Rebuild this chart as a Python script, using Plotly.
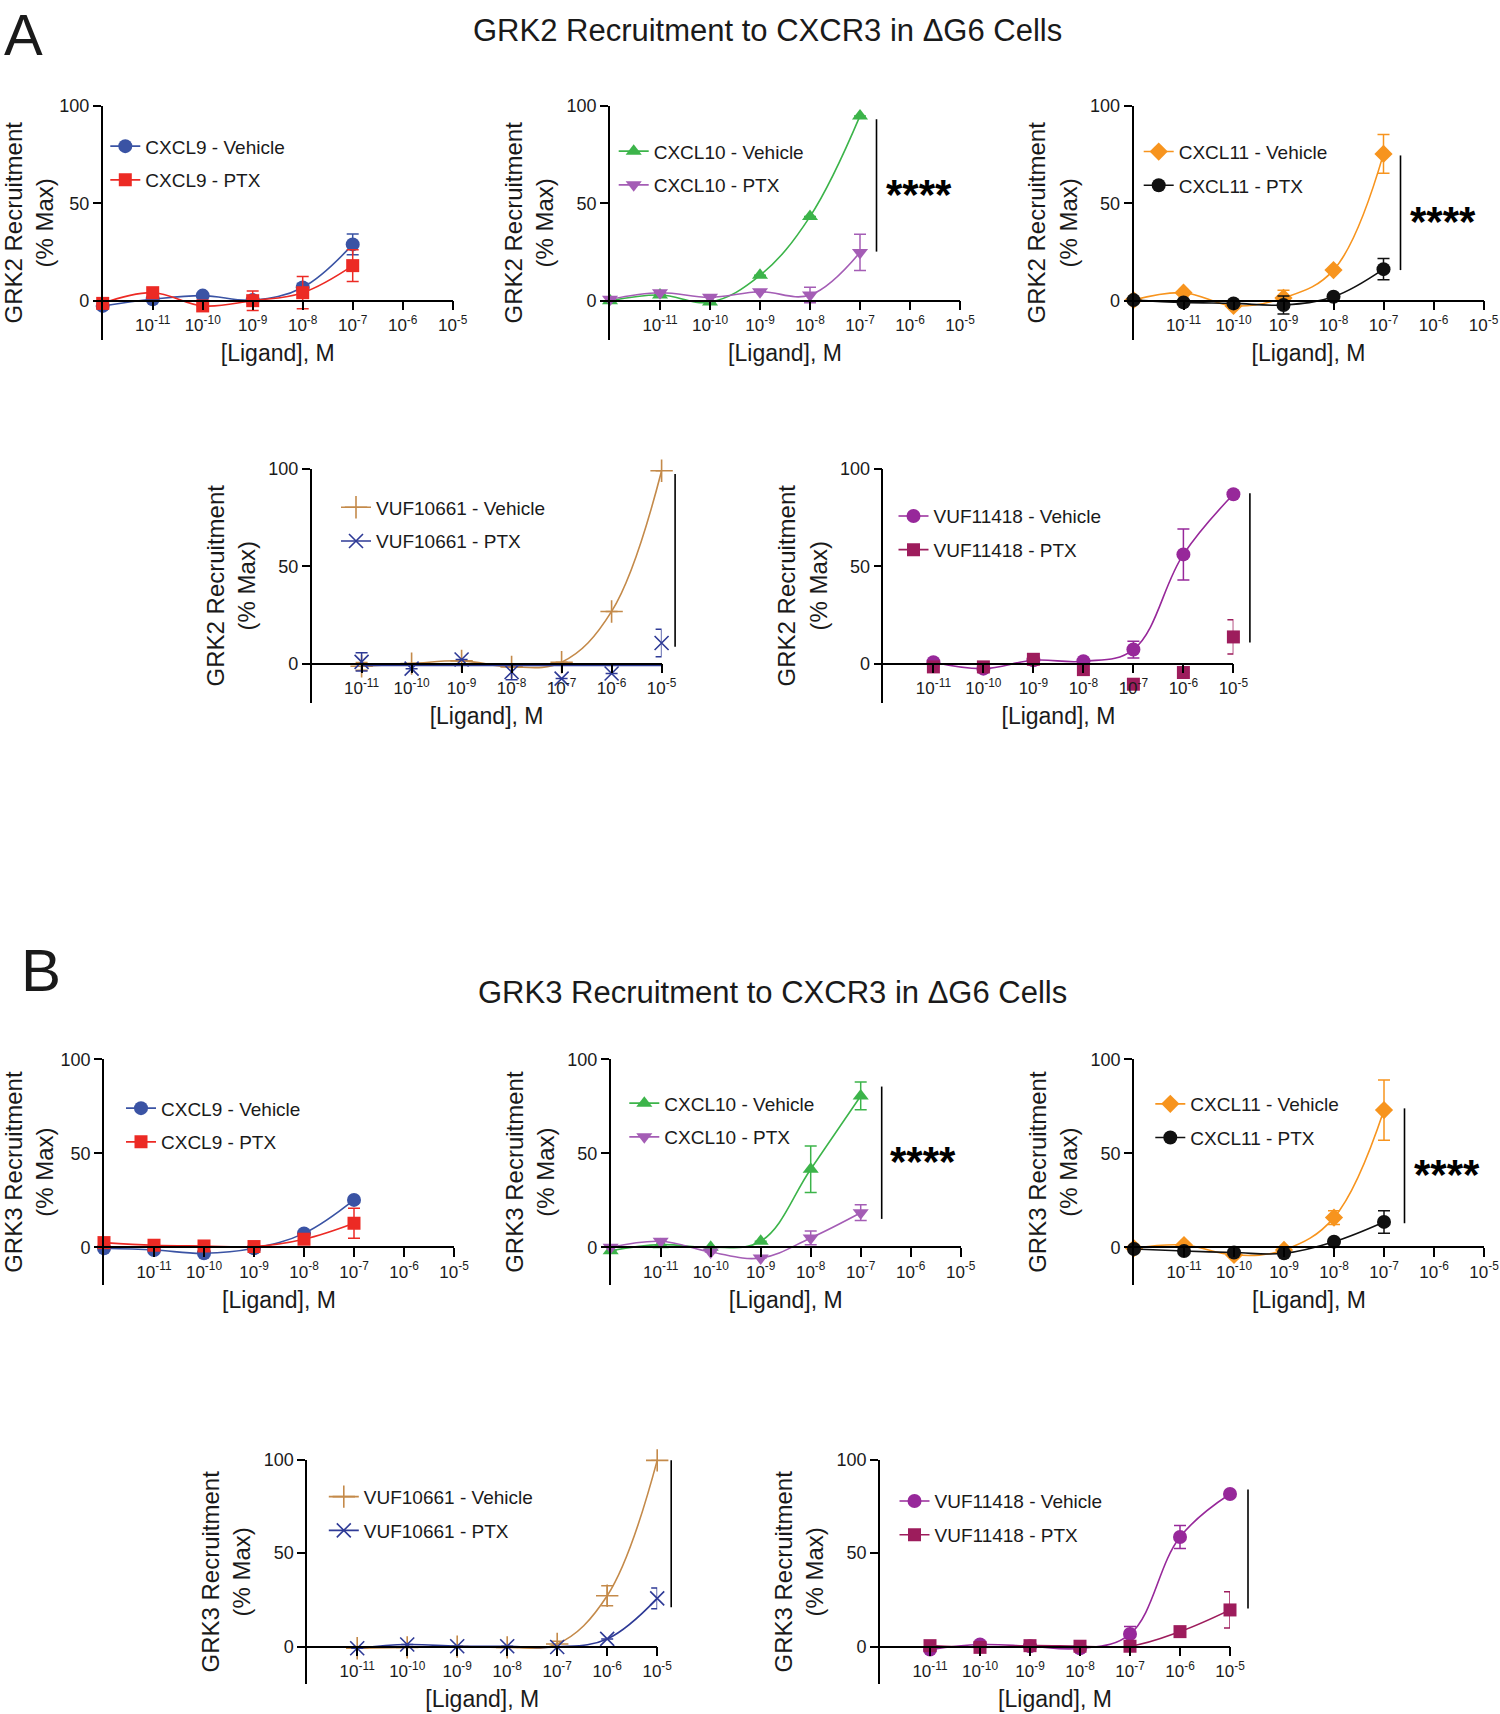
import plotly.graph_objects as go

FIG_W, FIG_H = 1500, 1714
FONT = "Liberation Sans, Arial, Helvetica, sans-serif"
TXT = "#1a1a1a"

# ---------------- data ----------------
chemokine_log_conc = [-12, -11, -10, -9, -8, -7]
vuf_log_conc = [-11, -10, -9, -8, -7, -6, -5]
xtick_vals = [-11, -10, -9, -8, -7, -6, -5]
xtick_text = ["10<sup>-11</sup>", "10<sup>-10</sup>", "10<sup>-9</sup>", "10<sup>-8</sup>",
              "10<sup>-7</sup>", "10<sup>-6</sup>", "10<sup>-5</sup>"]
ytick_vals = [0, 50, 100]

# GRK2 (panel A)
grk2_cxcl9_vehicle = [-2.7, 0.7, 2.6, 0.3, 6.8, 28.9]
grk2_cxcl9_vehicle_err = [0, 0, 0, 0, 2.0, 5.3]
grk2_cxcl9_ptx = [-1.4, 4.1, -2.7, 0.0, 4.1, 18.0]
grk2_cxcl9_ptx_err = [0, 0, 0, 5.0, 8.3, 8.2]
grk2_cxcl10_vehicle = [0.0, 2.9, -0.7, 13.0, 43.2, 94.9]
grk2_cxcl10_vehicle_err = [0, 0, 0, 0, 0, 0]
grk2_cxcl10_ptx = [0.7, 4.1, 1.7, 4.6, 2.9, 24.8]
grk2_cxcl10_ptx_err = [0, 0, 0, 0, 4.0, 9.3]
grk2_cxcl11_vehicle = [0.3, 4.1, -2.7, 1.4, 15.7, 75.4]
grk2_cxcl11_vehicle_err = [0, 0, 0, 4.0, 0, 10.0]
grk2_cxcl11_ptx = [0.3, -0.9, -1.4, -2.2, 2.0, 16.2]
grk2_cxcl11_ptx_err = [0, 0, 0, 4.6, 0, 5.5]
grk2_vuf10661_vehicle = [-1.4, 0.0, 1.4, -1.7, 0.7, 26.8, 99.1]
grk2_vuf10661_vehicle_err = [2.0, 0, 0, 0, 0, 0, 0]
grk2_vuf10661_ptx = [0.9, -2.6, 2.1, -4.3, -7.7, -5.1, 10.6]
grk2_vuf10661_ptx_err = [4.7, 0, 0, 4.0, 0, 0, 7.1]
grk2_vuf10661_ptx_fit_bottom = -1.0
grk2_vuf11418_vehicle = [0.7, -2.6, 1.7, 1.2, 7.2, 56.1, 87.0]
grk2_vuf11418_vehicle_err = [0, 0, 0, 0, 4.3, 13.1, 0]
grk2_vuf11418_ptx = [-1.7, -1.7, 2.2, -3.1, -10.6, -4.6, 13.7]
grk2_vuf11418_ptx_err = [0, 0, 0, 0, 0, 0, 8.8]

# GRK3 (panel B)
grk3_cxcl9_vehicle = [-0.5, -1.4, -3.2, -0.5, 7.4, 25.2]
grk3_cxcl9_vehicle_err = [0, 0, 0, 0, 0, 0]
grk3_cxcl9_ptx = [2.5, 1.1, 0.7, 0.4, 4.3, 12.8]
grk3_cxcl9_ptx_err = [0, 0, 0, 0, 0, 8.0]
grk3_cxcl10_vehicle = [-1.8, 1.4, 0.0, 3.2, 41.5, 80.5]
grk3_cxcl10_vehicle_err = [0, 0, 0, 0, 12.4, 7.4]
grk3_cxcl10_ptx = [0.0, 3.2, -2.5, -5.7, 5.0, 18.4]
grk3_cxcl10_ptx_err = [0, 0, 0, 0, 3.7, 4.2]
grk3_cxcl11_vehicle = [-0.5, 1.2, -4.1, -1.4, 15.8, 73.0]
grk3_cxcl11_vehicle_err = [0, 0, 0, 0, 3.7, 16.0]
grk3_cxcl11_ptx = [-0.9, -2.0, -2.8, -3.2, 3.0, 13.5]
grk3_cxcl11_ptx_err = [0, 0, 0, 0, 0, 6.0]
grk3_vuf10661_vehicle = [-0.9, -0.4, 0.0, -0.4, 1.4, 27.2, 99.6]
grk3_vuf10661_vehicle_err = [0, 0, 0, 0, 1.5, 5.4, 0]
grk3_vuf10661_ptx = [-0.9, 1.1, 0.2, 0.2, -0.2, 4.1, 25.8]
grk3_vuf10661_ptx_err = [0, 0, 0, 0, 0, 0, 5.6]
grk3_vuf11418_vehicle = [-1.6, 1.1, 0.2, -0.9, 6.7, 58.6, 81.6]
grk3_vuf11418_vehicle_err = [0, 0, 0, 0, 4.0, 6.2, 0]
grk3_vuf11418_ptx = [0.5, -0.4, 0.5, 0.2, 0.2, 8.0, 19.6]
grk3_vuf11418_ptx_err = [0, 0, 0, 0, 0, 0, 9.7]

# significance brackets: (bar x, bar y bottom, bar y top, star x, star y) in data units
grk2_sig = {
    "cxcl10": (-6.67, 25.2, 93.2, -5.83, 58.6),
    "cxcl11": (-6.66, 15.7, 74.6, -5.82, 44.7),
    "vuf10661": (-4.73, 8.6, 97.4, -3.89, 52.3),
    "vuf11418": (-4.67, 10.8, 87.5, -3.84, 48.9),
}
grk3_sig = {
    "cxcl10": (-6.58, 15.1, 85.5, -5.75, 50.0),
    "cxcl11": (-6.59, 12.8, 73.9, -5.75, 42.9),
    "vuf10661": (-4.72, 21.0, 99.6, -3.89, 66.3),
    "vuf11418": (-4.64, 20.4, 84.0, -3.82, 51.9),
}
sig_label = "****"

# ---------------- styles ----------------
C_BLUE = "#3a53a4"
C_RED = "#ec2a24"
C_GREEN = "#3cb44a"
C_LILAC = "#a45db5"
C_ORANGE = "#f7941e"
C_BLACK = "#111111"
C_TAN = "#c48a4a"
C_NAVY = "#2e3a96"
C_PURPLE = "#97289a"
C_MAROON = "#9d1c5c"

X_RANGE = [-12, -5]
Y_RANGE = [-20, 100]
PANEL_W = 350


def ser(name, x, y, err, color, symbol, size, curve="spline"):
    return dict(name=name, x=x, y=y, err=err, color=color, symbol=symbol, size=size, curve=curve)


panels = [
    dict(box=(102.7, 106, 339.6), grk="GRK2", leg=(119.3, 147.3), sig=None, series=[
        ser("CXCL9 - Vehicle", chemokine_log_conc, grk2_cxcl9_vehicle, grk2_cxcl9_vehicle_err, C_BLUE, "circle", 14),
        ser("CXCL9 - PTX", chemokine_log_conc, grk2_cxcl9_ptx, grk2_cxcl9_ptx_err, C_RED, "square", 13)]),
    dict(box=(610, 106, 339.6), grk="GRK2", leg=(627.7, 152.3), sig=grk2_sig["cxcl10"], series=[
        ser("CXCL10 - Vehicle", chemokine_log_conc, grk2_cxcl10_vehicle, grk2_cxcl10_vehicle_err, C_GREEN, "triangle-up", 14),
        ser("CXCL10 - PTX", chemokine_log_conc, grk2_cxcl10_ptx, grk2_cxcl10_ptx_err, C_LILAC, "triangle-down", 14)]),
    dict(box=(1133.5, 106, 339.6), grk="GRK2", leg=(1152.7, 152.7), sig=grk2_sig["cxcl11"], series=[
        ser("CXCL11 - Vehicle", chemokine_log_conc, grk2_cxcl11_vehicle, grk2_cxcl11_vehicle_err, C_ORANGE, "diamond", 14),
        ser("CXCL11 - PTX", chemokine_log_conc, grk2_cxcl11_ptx, grk2_cxcl11_ptx_err, C_BLACK, "circle", 14)]),
    dict(box=(311.6, 469, 702.5), grk="GRK2", leg=(350, 508.4), sig=grk2_sig["vuf10661"], series=[
        ser("VUF10661 - Vehicle", vuf_log_conc, grk2_vuf10661_vehicle, grk2_vuf10661_vehicle_err, C_TAN, "cross-thin", 16),
        ser("VUF10661 - PTX", vuf_log_conc, grk2_vuf10661_ptx, grk2_vuf10661_ptx_err, C_NAVY, "x-thin", 14,
            curve=("flat", grk2_vuf10661_ptx_fit_bottom))]),
    dict(box=(883.4, 469, 702.5), grk="GRK2", leg=(907.5, 517.1), sig=grk2_sig["vuf11418"], series=[
        ser("VUF11418 - Vehicle", vuf_log_conc, grk2_vuf11418_vehicle, grk2_vuf11418_vehicle_err, C_PURPLE, "circle", 14),
        ser("VUF11418 - PTX", vuf_log_conc, grk2_vuf11418_ptx, grk2_vuf11418_ptx_err, C_MAROON, "square", 13, curve=None)]),
    dict(box=(104, 1059.3, 1284.9), grk="GRK3", leg=(135, 1109.3), sig=None, series=[
        ser("CXCL9 - Vehicle", chemokine_log_conc, grk3_cxcl9_vehicle, grk3_cxcl9_vehicle_err, C_BLUE, "circle", 14),
        ser("CXCL9 - PTX", chemokine_log_conc, grk3_cxcl9_ptx, grk3_cxcl9_ptx_err, C_RED, "square", 13)]),
    dict(box=(610.7, 1059.3, 1284.9), grk="GRK3", leg=(638.3, 1104.3), sig=grk3_sig["cxcl10"], series=[
        ser("CXCL10 - Vehicle", chemokine_log_conc, grk3_cxcl10_vehicle, grk3_cxcl10_vehicle_err, C_GREEN, "triangle-up", 14),
        ser("CXCL10 - PTX", chemokine_log_conc, grk3_cxcl10_ptx, grk3_cxcl10_ptx_err, C_LILAC, "triangle-down", 14)]),
    dict(box=(1134, 1059.3, 1284.9), grk="GRK3", leg=(1164.3, 1105), sig=grk3_sig["cxcl11"], series=[
        ser("CXCL11 - Vehicle", chemokine_log_conc, grk3_cxcl11_vehicle, grk3_cxcl11_vehicle_err, C_ORANGE, "diamond", 14),
        ser("CXCL11 - PTX", chemokine_log_conc, grk3_cxcl11_ptx, grk3_cxcl11_ptx_err, C_BLACK, "circle", 14)]),
    dict(box=(307.2, 1459.6, 1684), grk="GRK3", leg=(337.8, 1497.8), sig=grk3_sig["vuf10661"], series=[
        ser("VUF10661 - Vehicle", vuf_log_conc, grk3_vuf10661_vehicle, grk3_vuf10661_vehicle_err, C_TAN, "cross-thin", 16),
        ser("VUF10661 - PTX", vuf_log_conc, grk3_vuf10661_ptx, grk3_vuf10661_ptx_err, C_NAVY, "x-thin", 14)]),
    dict(box=(880, 1459.6, 1684), grk="GRK3", leg=(908.5, 1502.2), sig=grk3_sig["vuf11418"], series=[
        ser("VUF11418 - Vehicle", vuf_log_conc, grk3_vuf11418_vehicle, grk3_vuf11418_vehicle_err, C_PURPLE, "circle", 14),
        ser("VUF11418 - PTX", vuf_log_conc, grk3_vuf11418_ptx, grk3_vuf11418_ptx_err, C_MAROON, "square", 13)]),
]

fig = go.Figure()
layout = dict(
    width=FIG_W, height=FIG_H,
    margin=dict(l=0, r=0, t=0, b=0, pad=0, autoexpand=False),
    paper_bgcolor="white", plot_bgcolor="white",
    font=dict(family=FONT, color=TXT),
    showlegend=True,
)
shapes, annotations = [], []

for i, p in enumerate(panels, start=1):
    sfx = "" if i == 1 else str(i)
    xa, ya = "x" + sfx, "y" + sfx
    leg = "legend" + sfx
    x0, top, bottom = p["box"]
    zero_frac = (0 - Y_RANGE[0]) / (Y_RANGE[1] - Y_RANGE[0])
    y_dom = [1 - bottom / FIG_H, 1 - top / FIG_H]
    zero_paper = y_dom[0] + zero_frac * (y_dom[1] - y_dom[0])

    layout["xaxis" + sfx] = dict(
        domain=[x0 / FIG_W, (x0 + PANEL_W) / FIG_W], range=X_RANGE,
        anchor="free", position=zero_paper, automargin=False,
        showline=True, linecolor="black", linewidth=1.6,
        ticks="outside", ticklen=9, tickwidth=1.6, tickcolor="black",
        tickvals=xtick_vals, ticktext=xtick_text,
        tickfont=dict(size=17, color=TXT, family=FONT),
        showgrid=False, zeroline=False, fixedrange=True,
        title=dict(text="[Ligand], M", font=dict(size=23, color=TXT, family=FONT), standoff=10),
    )
    layout["yaxis" + sfx] = dict(
        domain=y_dom, range=Y_RANGE, anchor=xa, automargin=False,
        showline=True, linecolor="black", linewidth=1.6,
        ticks="outside", ticklen=8, tickwidth=1.6, tickcolor="black",
        tickvals=ytick_vals, tickfont=dict(size=18, color=TXT, family=FONT),
        showgrid=False, zeroline=False, fixedrange=True,
        title=dict(text=p["grk"] + " Recruitment<br>(% Max)",
                   font=dict(size=24, color=TXT, family=FONT), standoff=6),
    )
    mx, my = p["leg"]
    layout[leg] = dict(
        x=(mx - 14) / FIG_W, y=1 - (my - 20) / FIG_H, xanchor="left", yanchor="top",
        bgcolor="rgba(0,0,0,0)", font=dict(size=19, color=TXT, family=FONT),
        tracegroupgap=6, itemclick=False, itemdoubleclick=False,
    )

    for k, s in enumerate(p["series"]):
        thin = s["symbol"].endswith("-thin")
        marker = dict(symbol=s["symbol"], size=s["size"], color=s["color"],
                      line=dict(width=1.6 if thin else 0, color=s["color"]))
        err = dict(type="data", array=s["err"], visible=True, color=s["color"],
                   thickness=1.5, width=6)
        grp = f"p{i}s{k}"
        if s["curve"] == "spline":
            fig.add_trace(go.Scatter(
                x=s["x"], y=s["y"], mode="lines+markers", name=s["name"],
                line=dict(shape="spline", smoothing=1.1, width=1.6, color=s["color"]),
                marker=marker, error_y=err, cliponaxis=False,
                xaxis=xa, yaxis=ya, legend=leg, legendgroup=grp, showlegend=True))
        else:
            if isinstance(s["curve"], tuple) and s["curve"][0] == "flat":
                fit = s["curve"][1]
                fig.add_trace(go.Scatter(
                    x=[s["x"][0], s["x"][-1]], y=[fit, fit], mode="lines",
                    line=dict(width=1.6, color=s["color"]), hoverinfo="skip",
                    xaxis=xa, yaxis=ya, legend=leg, legendgroup=grp, showlegend=False))
            fig.add_trace(go.Scatter(
                x=s["x"], y=s["y"], mode="markers", name=s["name"],
                marker=marker, error_y=err, cliponaxis=False,
                xaxis=xa, yaxis=ya, legend=leg, legendgroup=grp, showlegend=False))
            fig.add_trace(go.Scatter(
                x=[None], y=[None], mode="lines+markers", name=s["name"],
                line=dict(width=1.6, color=s["color"]), marker=marker,
                xaxis=xa, yaxis=ya, legend=leg, legendgroup=grp, showlegend=True))

    if p["sig"] is not None:
        bx, by0, by1, sx, sy = p["sig"]
        span_x = X_RANGE[1] - X_RANGE[0]
        span_y = Y_RANGE[1] - Y_RANGE[0]
        shapes.append(dict(
            type="line", xref=xa + " domain", yref=ya + " domain",
            x0=(bx - X_RANGE[0]) / span_x, x1=(bx - X_RANGE[0]) / span_x,
            y0=(by0 - Y_RANGE[0]) / span_y, y1=(by1 - Y_RANGE[0]) / span_y,
            line=dict(color="black", width=1.6)))
        annotations.append(dict(
            xref=xa, yref=ya, x=sx, y=sy, text="<b>" + sig_label + "</b>", showarrow=False,
            font=dict(size=42, color="black", family=FONT), xanchor="center", yanchor="middle",
            yshift=-8))

# Section titles and panel letters
annotations += [
    dict(xref="paper", yref="paper", x=23.5 / FIG_W, y=1.0, text="A", showarrow=False,
         font=dict(size=58, color=TXT, family=FONT), xanchor="center", yanchor="top"),
    dict(xref="paper", yref="paper", x=767.5 / FIG_W, y=1 - 30.6 / FIG_H,
         text="GRK2 Recruitment to CXCR3 in ΔG6 Cells", showarrow=False,
         font=dict(size=31, color=TXT, family=FONT), xanchor="center", yanchor="middle"),
    dict(xref="paper", yref="paper", x=40.5 / FIG_W, y=1 - 970 / FIG_H, text="B", showarrow=False,
         font=dict(size=60, color=TXT, family=FONT), xanchor="center", yanchor="middle"),
    dict(xref="paper", yref="paper", x=772 / FIG_W, y=1 - 992.7 / FIG_H,
         text="GRK3 Recruitment to CXCR3 in ΔG6 Cells", showarrow=False,
         font=dict(size=31, color=TXT, family=FONT), xanchor="center", yanchor="middle"),
]

layout["shapes"] = shapes
layout["annotations"] = annotations
fig.update_layout(**layout)

page_fix = (
    "document.documentElement.style.margin='0px';"
    "document.documentElement.style.overflow='hidden';"
    "document.body.style.margin='0px';"
    "document.body.style.padding='0px';"
    "document.body.style.overflow='hidden';"
    "var gd=document.getElementById('{plot_id}');"
    "gd.style.position='absolute';gd.style.left='0px';gd.style.top='0px';"
)
fig.write_html(
    "out.html",
    config={"displayModeBar": False},
    post_script=page_fix,
)
